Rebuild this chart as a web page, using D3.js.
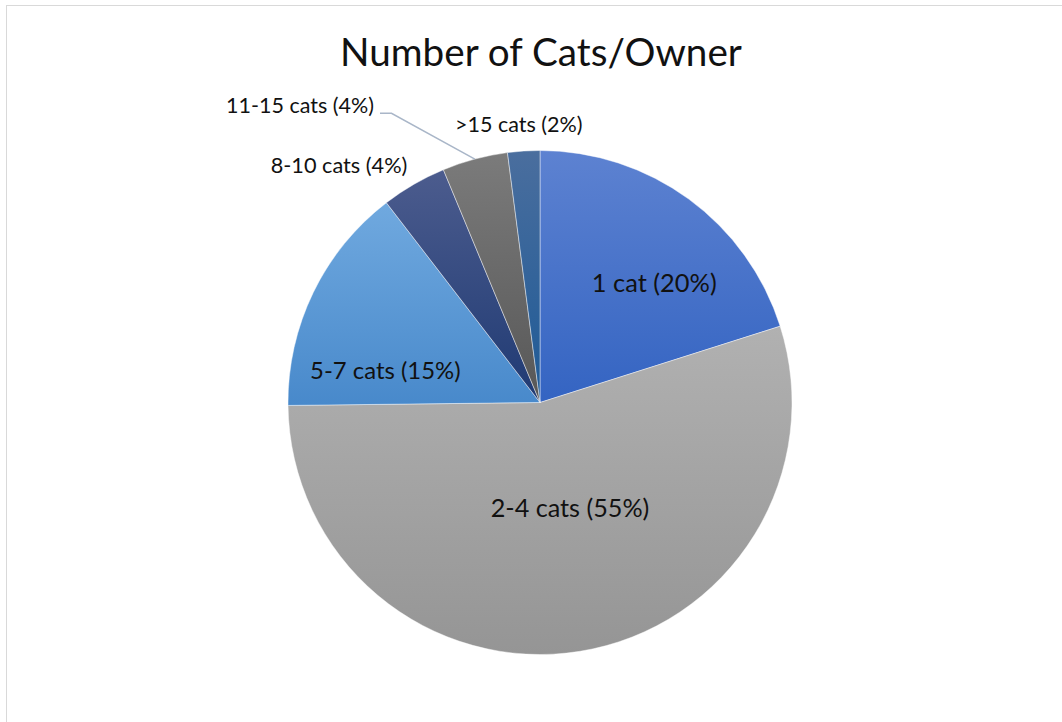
<!DOCTYPE html>
<html>
<head>
<meta charset="utf-8">
<script src="https://cdn.jsdelivr.net/npm/d3@7"></script>
<style>
  html, body { margin: 0; padding: 0; background: #fff; }
  svg { display: block; }
</style>
</head>
<body>
<svg id="chart" width="1062" height="722"></svg>
<script>
// ---- data ----
const categories = ["1 cat", "2-4 cats", "5-7 cats", "8-10 cats", "11-15 cats", ">15 cats"];
const values = [20.1, 54.7, 14.75, 4.17, 4.2, 2.06];
const percentLabels = ["20%", "55%", "15%", "4%", "4%", "2%"];
const title = "Number of Cats/Owner";

// ---- styles / layout ----
const colorsTop = ["#5d82d1", "#b1b1b1", "#70a9df", "#4c5c8e", "#7b7b7b", "#4a6e9e"];
const colorsBottom = ["#3464c2", "#959595", "#4889cb", "#1f3a73", "#575757", "#1e5a96"];
const W = 1062, H = 722;
const cx = 540, cy = 402.5, R = 252;
const fontFamily = "Lato, 'Open Sans', sans-serif";
// label anchors relative to pie center, in units of R, plus target text widths
const labelLayout = [
  { dx: 0.4536, dy: -0.4397, w: 125, size: 26, inside: true },
  { dx: 0.119, dy: 0.4532, w: 158.7, size: 26, inside: true },
  { dx: -0.6139, dy: -0.0921, w: 150.7, size: 26, inside: true },
  { dx: -0.7976, dy: -0.9095, w: 136.7, size: 24, inside: false },
  { dx: -0.9524, dy: -1.1476, w: 148, size: 24, inside: false, leader: true },
  { dx: -0.0841, dy: -1.0746, w: 127.7, size: 24, inside: false }
];

const svg = d3.select("#chart");

// outer chart border (only top/left visible in the reference)
svg.append("rect")
  .attr("x", 6.5).attr("y", 5.5)
  .attr("width", W + 10).attr("height", H + 10)
  .attr("fill", "#fff").attr("stroke", "#d9d9d9").attr("stroke-width", 1);

// gradients
const defs = svg.append("defs");
categories.forEach((c, i) => {
  const g = defs.append("linearGradient")
    .attr("id", "grad" + i)
    .attr("x1", 0).attr("y1", 0).attr("x2", 0).attr("y2", 1);
  g.append("stop").attr("offset", "0%").attr("stop-color", colorsTop[i]);
  g.append("stop").attr("offset", "100%").attr("stop-color", colorsBottom[i]);
});

function fitText(sel, target, size) {
  sel.attr("font-size", size);
  const len = sel.node().getComputedTextLength();
  if (len > 0) sel.attr("font-size", size * target / len);
}

// title
const t = svg.append("text")
  .attr("x", 541).attr("y", 66)
  .attr("text-anchor", "middle")
  .attr("font-family", fontFamily)
  .attr("fill", "#111")
  .text(title);
fitText(t, 402, 40);

// pie
const pie = d3.pie().sort(null).value(d => d.value);
const arcs = pie(categories.map((c, i) => ({ cat: c, value: values[i], i })));
const arc = d3.arc().innerRadius(0).outerRadius(R);

const g = svg.append("g").attr("transform", `translate(${cx},${cy})`);
g.selectAll("path.slice")
  .data(arcs)
  .enter().append("path")
  .attr("class", "slice")
  .attr("d", arc)
  .attr("fill", d => `url(#grad${d.data.i})`)
  .attr("stroke", "rgba(255,255,255,0.55)")
  .attr("stroke-width", 0.8);

// leader line(s)
arcs.forEach((d, i) => {
  const L = labelLayout[i];
  if (!L.leader) return;
  const mid = (d.startAngle + d.endAngle) / 2;
  const ex = R * Math.sin(mid), ey = -R * Math.cos(mid);
  const lx = L.dx * R + L.w / 2 + 6;
  const ly = L.dy * R;
  g.append("path")
    .attr("d", `M${lx},${ly}H${lx + 11.5}L${ex},${ey}`)
    .attr("fill", "none")
    .attr("stroke", "#a9b6c8")
    .attr("stroke-width", 1.5);
});

// labels
arcs.forEach((d, i) => {
  const L = labelLayout[i];
  const txt = g.append("text")
    .attr("x", L.dx * R).attr("y", L.dy * R)
    .attr("text-anchor", "middle")
    .attr("font-family", fontFamily)
    .attr("fill", "#111")
    .text(`${categories[i]} (${percentLabels[i]})`);
  fitText(txt, L.w, L.size);
});
</script>
</body>
</html>
